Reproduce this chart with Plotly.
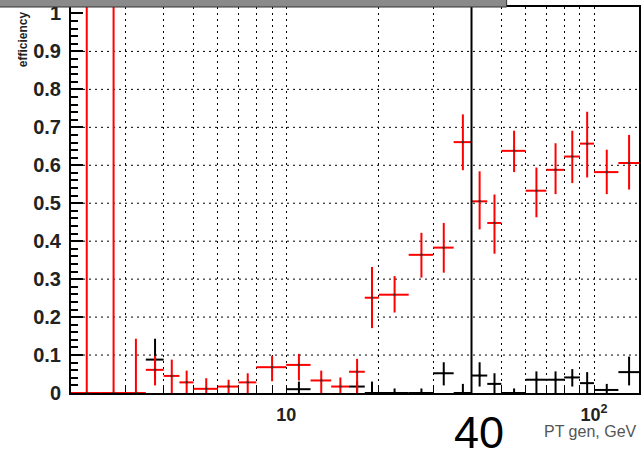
import plotly.graph_objects as go

# ---- data ----
red_x = [2.25, 2.75, 3.25, 3.75, 4.25, 4.75, 5.5, 6.5, 7.5, 9, 11, 13, 15, 17, 19, 22.5,
         27.5, 32.5, 37.5, 42.5, 47.5, 55, 65, 75, 85, 95, 110, 130]
red_xerr = [0.25, 0.25, 0.25, 0.25, 0.25, 0.25, 0.5, 0.5, 0.5, 1, 1, 1, 1, 1, 1, 2.5,
            2.5, 2.5, 2.5, 2.5, 2.5, 5, 5, 5, 5, 5, 10, 10]
red_y = [0, 0, 0, 0.061, 0.045, 0.028, 0.011, 0.017, 0.028, 0.068, 0.074, 0.033, 0.017, 0.056,
         0.251, 0.259, 0.364, 0.383, 0.661, 0.505, 0.448, 0.638, 0.533, 0.588, 0.623, 0.657,
         0.582, 0.606]
red_eplus = [1.1, 1.1, 0.143, 0.037, 0.043, 0.031, 0.028, 0.018, 0.024, 0.030, 0.029, 0.026,
             0.024, 0.034, 0.081, 0.049, 0.058, 0.065, 0.073, 0.079, 0.075, 0.053, 0.061,
             0.070, 0.068, 0.084, 0.059, 0.074]
red_eminus = [0, 0, 0, 0.041, 0.045, 0.028, 0.011, 0.017, 0.028, 0.037, 0.041, 0.033, 0.017,
              0.056, 0.080, 0.047, 0.060, 0.066, 0.074, 0.074, 0.081, 0.056, 0.070, 0.064,
              0.070, 0.089, 0.058, 0.070]

blk_x = [3.75, 11, 17, 19, 22.5, 27.5, 32.5, 37.5, 42.5, 47.5, 55, 65, 75, 85, 95, 110, 130]
blk_xerr = [0.25, 1, 1, 1, 2.5, 2.5, 2.5, 2.5, 2.5, 2.5, 5, 5, 5, 5, 5, 10, 10]
blk_y = [0.088, 0.010, 0.017, 0, 0, 0, 0.052, 0, 0.046, 0.024, 0, 0.035, 0.035, 0.041,
         0.026, 0.008, 0.055]
blk_eplus = [0.055, 0.020, 0.015, 0.030, 0.012, 0.012, 0.029, 0.024, 0.035, 0.028, 0.012,
             0.022, 0.022, 0.022, 0.029, 0.016, 0.041]
blk_eminus = [0.050, 0.010, 0.017, 0, 0, 0, 0.032, 0, 0.029, 0.024, 0, 0.035, 0.035, 0.024,
              0.026, 0.008, 0.035]

grid_vals = [3, 4, 5, 6, 7, 8, 9, 10, 20, 30, 50, 60, 70, 80, 90, 100]
grid_text = ["", "", "", "", "", "", "", "10", "", "", "", "", "", "", "", "10<sup>2</sup>"]
y_vals = [0, 0.1, 0.2, 0.3, 0.4, 0.5, 0.6, 0.7, 0.8, 0.9, 1]
y_text = ["0", "0.1", "0.2", "0.3", "0.4", "0.5", "0.6", "0.7", "0.8", "0.9", "1"]
y_grid = [0.1, 0.2, 0.3, 0.4, 0.5, 0.6, 0.7, 0.8, 0.9]
cut_value = 40

# ---- figure ----
fig = go.Figure()
fig.add_trace(go.Scatter(
    x=blk_x, y=blk_y, mode="markers",
    marker=dict(size=2.5, color="black"),
    error_x=dict(type="data", array=blk_xerr, color="black", thickness=2, width=0),
    error_y=dict(type="data", symmetric=False, array=blk_eplus, arrayminus=blk_eminus,
                 color="black", thickness=2, width=0),
    showlegend=False, hoverinfo="skip"))
fig.add_trace(go.Scatter(
    x=red_x, y=red_y, mode="markers",
    marker=dict(size=2.5, color="#333333"),
    error_x=dict(type="data", array=red_xerr, color="#ff0000", thickness=2, width=0),
    error_y=dict(type="data", symmetric=False, array=red_eplus, arrayminus=red_eminus,
                 color="#ff0000", thickness=2, width=0),
    showlegend=False, hoverinfo="skip"))

bold = dict(family="Liberation Sans, Arial, sans-serif", color="#222222", weight="bold")

shapes = [dict(type="line", xref="paper", yref="y", x0=0, x1=1, y0=v, y1=v, layer="below",
               line=dict(color="black", width=1, dash="2px,4px")) for v in y_grid]
shapes += [
    dict(type="line", xref="x", yref="paper", x0=cut_value, x1=cut_value, y0=0, y1=1,
         line=dict(color="black", width=2)),
    dict(type="rect", xref="paper", yref="paper", x0=-0.13, x1=0.767, y0=1.0, y1=1.02,
         fillcolor="#8a8a8a", line=dict(color="#333333", width=1)),
]

fig.update_layout(
    width=643, height=455,
    margin=dict(l=71, r=2, t=5, b=62),
    paper_bgcolor="white", plot_bgcolor="white",
    xaxis=dict(
        type="log", range=[0.30103, 2.14613],
        tickvals=grid_vals, ticktext=grid_text,
        tickfont=dict(size=18, **bold),
        ticks="inside", ticklen=8, tickcolor="black", tickwidth=1,
        ticklabelstandoff=4,
        showgrid=True, gridcolor="black", gridwidth=1, griddash="2px,4px",
        showline=True, linecolor="black", linewidth=2, mirror=True,
        zeroline=False, layer="below traces"),
    yaxis=dict(
        range=[0, 1.017],
        tickvals=y_vals, ticktext=y_text,
        tickfont=dict(size=20, **bold),
        ticks="inside", ticklen=12, tickcolor="black", tickwidth=2,
        minor=dict(ticks="inside", dtick=0.02, ticklen=7, tickcolor="black", tickwidth=2,
                   showgrid=False),
        ticklabelstandoff=4,
        showgrid=False,
        showline=True, linecolor="black", linewidth=2, mirror=True,
        zeroline=False, layer="below traces"),
    shapes=shapes,
    annotations=[
        dict(text="efficiency", xref="paper", yref="paper", x=-0.084, y=0.995,
             xanchor="center", yanchor="top", textangle=-90, showarrow=False,
             font=dict(size=12, **bold)),
        dict(text="40", xref="x", yref="paper", x=1.625, y=-0.102, xanchor="center",
             yanchor="middle", showarrow=False,
             font=dict(family="Liberation Sans, Arial, sans-serif", size=45, color="black")),
        dict(text="PT gen, GeV", xref="paper", yref="paper", x=1.0, y=-0.1,
             xanchor="right", yanchor="middle", showarrow=False,
             font=dict(family="Liberation Sans, Arial, sans-serif", size=16, color="#555555")),
    ],
)

fig.write_html("out.html")
